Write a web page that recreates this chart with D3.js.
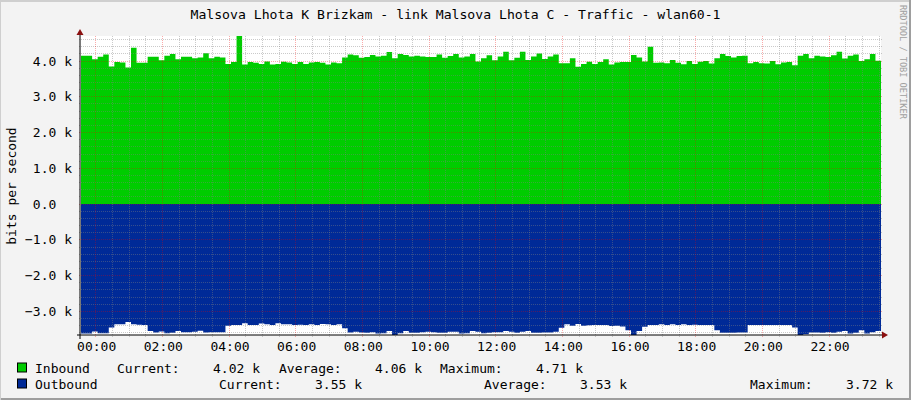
<!DOCTYPE html>
<html><head><meta charset="utf-8">
<script src="https://cdn.jsdelivr.net/npm/d3@7"></script>
<style>
html,body{margin:0;padding:0;background:#F3F3F3;}
svg{display:block;}
text{font-family:"DejaVu Sans Mono",monospace;}
</style></head><body>
<svg id="chart" width="911" height="400"></svg>
<script>
// ---------------- data ----------------
const titleText = "Malsova Lhota K Brizkam - link Malsova Lhota C - Traffic - wlan60-1";
const yAxisLabel = "bits per second";
const watermark = "RRDTOOL / TOBI OETIKER";
const seriesNames = ["Inbound", "Outbound"];
const seriesColors = ["#00CC00", "#002A97"];
const stepMinutes = 10;
const startTime = new Date(2024, 0, 1, 23, 33, 36);
const endTime = new Date(2024, 0, 2, 23, 33, 36);
// values in k bits per second, one per 10 minutes
const inboundK = [
 4.15,4.15,4.05,4.12,4.18,3.85,3.97,3.96,3.82,4.37,
 3.95,3.95,4.12,4.12,4.02,4.15,4.20,4.05,4.12,4.12,
 4.08,4.10,4.22,4.08,4.12,4.10,3.92,3.97,4.71,3.90,
 3.97,3.95,3.92,3.99,3.90,3.92,3.98,3.96,3.92,3.97,
 3.92,3.96,3.97,3.95,3.90,3.96,3.94,4.10,4.18,4.16,
 4.09,4.11,4.17,4.13,4.15,4.25,4.08,4.20,4.17,4.13,
 4.15,4.13,4.11,4.11,4.18,4.09,4.14,4.20,4.10,4.13,
 4.20,3.99,4.08,4.16,4.02,4.13,4.26,4.02,4.09,4.26,
 4.03,4.13,4.21,4.06,4.13,4.18,3.94,3.94,4.08,3.84,
 3.92,3.98,3.92,3.97,4.05,3.90,3.96,3.97,3.97,4.17,
 4.10,3.99,4.40,3.95,3.96,3.94,4.03,3.95,3.91,4.00,
 3.92,3.98,4.00,3.93,4.08,4.20,4.14,4.10,4.14,4.15,
 3.94,3.97,3.94,3.93,4.00,3.91,3.96,3.97,3.88,4.15,
 4.20,4.08,4.15,4.13,4.11,4.16,4.26,4.07,4.15,4.18,
 4.00,4.05,4.20,4.01
];
const outboundK = [
 3.62,3.62,3.56,3.61,3.61,3.45,3.36,3.36,3.30,3.36,
 3.37,3.38,3.55,3.59,3.56,3.61,3.60,3.55,3.58,3.58,
 3.57,3.54,3.59,3.58,3.58,3.58,3.40,3.38,3.38,3.33,
 3.38,3.38,3.34,3.36,3.38,3.33,3.36,3.36,3.38,3.37,
 3.38,3.36,3.38,3.35,3.36,3.38,3.36,3.47,3.59,3.57,
 3.59,3.60,3.58,3.62,3.61,3.55,3.67,3.61,3.55,3.60,
 3.60,3.58,3.57,3.58,3.60,3.60,3.57,3.57,3.62,3.61,
 3.55,3.57,3.61,3.60,3.58,3.58,3.55,3.57,3.60,3.57,
 3.55,3.60,3.60,3.59,3.59,3.57,3.46,3.36,3.40,3.35,
 3.40,3.39,3.38,3.38,3.38,3.41,3.40,3.42,3.53,3.66,
 3.55,3.43,3.38,3.38,3.36,3.38,3.36,3.38,3.36,3.38,
 3.37,3.38,3.38,3.38,3.53,3.60,3.60,3.60,3.59,3.59,
 3.38,3.38,3.38,3.38,3.38,3.38,3.38,3.38,3.45,3.66,
 3.64,3.59,3.59,3.60,3.58,3.60,3.57,3.55,3.62,3.60,
 3.53,3.62,3.58,3.55
];
const yDomainK = [-3.66, 4.70];
const yMajorTicks = [-3, -2, -1, 0, 1, 2, 3, 4];
const statLabels = ["Current:", "Average:", "Maximum:"];
const inboundStats = ["4.02 k", "4.06 k", "4.71 k"];
const outboundStats = ["3.55 k", "3.53 k", "3.72 k"];

// ---------------- layout ----------------
const W = 911, H = 400;
const PL = 81, PR = 881, PT = 36, PB = 335;
const svg = d3.select("#chart");

const x = d3.scaleTime().domain([startTime, endTime]).range([PL, PR]);
const y = d3.scaleLinear().domain(yDomainK).range([PB, PT]);

// background & frame
svg.append("rect").attr("x",0).attr("y",0).attr("width",W).attr("height",H).attr("fill","#F3F3F3");
svg.append("path").attr("d",`M0,${H} V1 H${W}`).attr("fill","none").attr("stroke","#CFCFCF").attr("stroke-width",2);
svg.append("path").attr("d",`M1,${H-1} H${W-1} V0`).attr("fill","none").attr("stroke","#9E9E9E").attr("stroke-width",2);

// canvas
svg.append("rect").attr("x",PL).attr("y",PT).attr("width",PR-PL).attr("height",PB-PT).attr("fill","#FFFFFF");

svg.append("defs").append("clipPath").attr("id","clip")
  .append("rect").attr("x",PL).attr("y",PT).attr("width",PR-PL).attr("height",PB-PT);

// data points (step)
function toPoints(arr){
  const pts = arr.map((v,i)=>({t:d3.timeMinute.offset(startTime, i*stepMinutes), v}));
  pts.push({t:endTime, v:arr[arr.length-1]});
  return pts;
}
const inPts = toPoints(inboundK);
const outPts = toPoints(outboundK.map(v=>-v));

const area = d3.area().curve(d3.curveStepAfter)
  .x(d=>x(d.t)).y0(y(0)).y1(d=>y(d.v));

const g = svg.append("g").attr("clip-path","url(#clip)");
g.append("path").datum(inPts).attr("d",area).attr("fill",seriesColors[0]);
g.append("path").datum(outPts).attr("d",area).attr("fill",seriesColors[1]);

// grid
const gridColor = "rgba(128,128,128,0.42)";
const mgridColor = "rgba(240,0,0,0.33)";
const grid = svg.append("g").attr("shape-rendering","crispEdges");
const px = v => Math.floor(v) + 0.5;

// horizontal minor
const yMinor = d3.range(-36, 47, 2).map(v=>v/10).filter(v=>Math.abs(v - Math.round(v))>1e-6);
yMinor.forEach(v=>{
  const yy = px(y(v));
  grid.append("line").attr("x1",PL-2).attr("x2",PR+2).attr("y1",yy).attr("y2",yy)
    .attr("stroke",gridColor).attr("stroke-dasharray","1,1");
});
// vertical minor
const xMinor = d3.timeMinute.every(30).range(startTime, endTime).filter(t=>!(t.getMinutes()===0 && t.getHours()%2===0));
xMinor.forEach(t=>{
  const xx = px(x(t));
  grid.append("line").attr("x1",xx).attr("x2",xx).attr("y1",PT).attr("y2",PB+2)
    .attr("stroke",gridColor).attr("stroke-dasharray","1,1");
});
// horizontal major
yMajorTicks.forEach(v=>{
  const yy = px(y(v));
  grid.append("line").attr("x1",PL-2).attr("x2",PR+2).attr("y1",yy).attr("y2",yy)
    .attr("stroke",mgridColor).attr("stroke-dasharray","1,1");
});
// vertical major
const xMajor = d3.timeHour.every(2).range(startTime, endTime);
xMajor.forEach(t=>{
  const xx = px(x(t));
  grid.append("line").attr("x1",xx).attr("x2",xx).attr("y1",PT).attr("y2",PB+2)
    .attr("stroke",mgridColor).attr("stroke-dasharray","1,1");
});

// axes lines
svg.append("line").attr("x1",PL-1).attr("x2",PL-1).attr("y1",PB+4).attr("y2",PT-4)
  .attr("stroke","#000").attr("stroke-width",1);
svg.append("line").attr("x1",PL-4).attr("x2",PR+3).attr("y1",PB).attr("y2",PB)
  .attr("stroke","#000").attr("stroke-width",1);
// arrows
const arrowColor = "#8B1010";
svg.append("path").attr("d",`M${PL-4.5},${PT-1} L${PL+2.5},${PT-1} L${PL-1},${PT-7} Z`).attr("fill",arrowColor);
svg.append("path").attr("d",`M${PR+1},${PB-3.5} L${PR+1},${PB+3.5} L${PR+7},${PB} Z`).attr("fill",arrowColor);

// y tick labels
const fmtY = v => v===0 ? "0.0\u00a0\u00a0" : d3.format(".1f")(v) + " k";
svg.append("g").selectAll("text").data(yMajorTicks).join("text")
  .attr("x",72).attr("y",d=>y(d)+4.5).attr("text-anchor","end")
  .attr("font-size","13px").attr("fill","#000").text(fmtY);

// x tick labels
const fmtX = d3.timeFormat("%H:%M");
svg.append("g").selectAll("text").data(xMajor).join("text")
  .attr("x",d=>x(d)+1).attr("y",351).attr("text-anchor","middle")
  .attr("font-size","13px").attr("fill","#000").text(fmtX);

// title
svg.append("text").attr("x",455.5).attr("y",19).attr("text-anchor","middle")
  .attr("font-size","13.15px").attr("fill","#000").text(titleText);

// y axis label
svg.append("text").attr("transform","translate(16,186) rotate(-90)").attr("text-anchor","middle")
  .attr("font-size","13px").attr("fill","#000").text(yAxisLabel);

// watermark
svg.append("text").attr("transform","translate(899.5,5) rotate(90)").attr("text-anchor","start")
  .attr("font-size","8.6px").attr("fill","#A0A0A0").text(watermark);

// legend
const legendRows = [
  {name:seriesNames[0], color:seriesColors[0], stats:inboundStats, by:372.5, lx:[117,279,440], vx:[213,375,536]},
  {name:seriesNames[1], color:seriesColors[1], stats:outboundStats, by:388.5, lx:[219,484,750], vx:[315,580,846]}
];
const lg = svg.append("g").attr("font-size","13px").attr("fill","#000");
legendRows.forEach(r=>{
  lg.append("rect").attr("x",17.5).attr("y",r.by-9.5).attr("width",9).attr("height",9)
    .attr("fill",r.color).attr("stroke","#000").attr("stroke-width",1);
  lg.append("text").attr("x",35).attr("y",r.by).text(r.name);
  statLabels.forEach((s,i)=>{
    lg.append("text").attr("x",r.lx[i]).attr("y",r.by).text(s);
    lg.append("text").attr("x",r.vx[i]).attr("y",r.by).text(r.stats[i]);
  });
});
</script>
</body></html>
